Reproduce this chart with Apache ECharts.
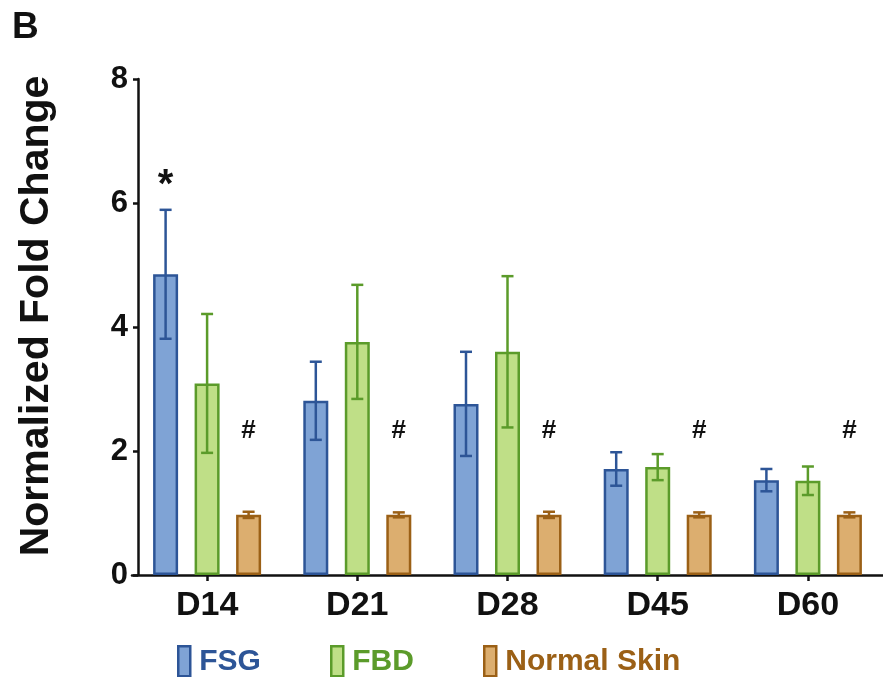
<!DOCTYPE html>
<html>
<head>
<meta charset="utf-8">
<script src="https://cdn.jsdelivr.net/npm/echarts@6/dist/echarts.min.js"></script>
<style>
html, body { margin: 0; padding: 0; background: #fff; }
#chart { width: 883px; height: 677px; }
</style>
</head>
<body>
<div id="chart"></div>
<script>
var categories = ['D14', 'D21', 'D28', 'D45', 'D60'];
var fsgMean = [4.85, 2.81, 2.76, 1.71, 1.53];
var fsgErr = [1.04, 0.63, 0.84, 0.27, 0.18];
var fbdMean = [3.09, 3.76, 3.60, 1.74, 1.52];
var fbdErr = [1.12, 0.92, 1.22, 0.21, 0.23];
var skinMean = [0.97, 0.97, 0.97, 0.97, 0.97];
var skinErr = [0.05, 0.04, 0.05, 0.04, 0.04];
var fsgMarks = ['*', '', '', '', ''];
var skinMarks = ['#', '#', '#', '#', '#'];
var yTicks = [0, 2, 4, 6, 8];

var font = "'Liberation Sans', Arial, sans-serif";
var groups = [
	{name: 'FSG', mean: fsgMean, err: fsgErr, marks: fsgMarks, fill: '#7fa3d5', edge: '#2d5597'},
	{name: 'FBD', mean: fbdMean, err: fbdErr, marks: null, fill: '#bfdf87', edge: '#5b9b2a'},
	{name: 'Normal Skin', mean: skinMean, err: skinErr, marks: skinMarks, fill: '#dcae6f', edge: '#9b6016'}
];
var barW = 25;
var barGap = 0.66;

// error bars (and the * / # marks) drawn beside each bar
function errorRenderer(k) {
	return function(params, api) {
		var i = api.value(0);
		var m = api.value(1);
		var e = api.value(2);
		var dx = (k - 1) * barW * (1 + barGap);
		var top = api.coord([i, m + e]);
		var bot = api.coord([i, m - e]);
		var x = top[0] + dx;
		var cap = 6;
		var st = {stroke: groups[k].edge, lineWidth: 2.5};
		var children = [
			{type: 'line', shape: {x1: x, y1: top[1], x2: x, y2: bot[1]}, style: st},
			{type: 'line', shape: {x1: x - cap, y1: top[1], x2: x + cap, y2: top[1]}, style: st},
			{type: 'line', shape: {x1: x - cap, y1: bot[1], x2: x + cap, y2: bot[1]}, style: st}
		];
		var g = groups[k];
		if (g.marks && g.marks[i]) {
			var isStar = g.marks[i] == '*';
			var p = api.coord([i, isStar ? m + e + 0.55 : 2.33]);
			children.push({
				type: 'text',
				style: {
					text: g.marks[i], x: x, y: isStar ? p[1] + 10 : p[1],
					align: 'center', verticalAlign: 'middle',
					font: 'bold ' + (isStar ? 40 : 26) + 'px ' + font, fill: '#111'
				}
			});
		}
		return {type: 'group', children: children};
	};
}

var series = [];
var legends = [];
var legendLeft = [177, 330, 483];
for (var k = 0; k < groups.length; k++) {
	var g = groups[k];
	series.push({
		name: g.name,
		type: 'bar',
		data: g.mean,
		barWidth: barW,
		barGap: Math.round(barGap * 100) + '%',
		itemStyle: {color: g.fill, borderColor: g.edge, borderWidth: 2.5},
		z: 2
	});
	var errData = [];
	for (var i = 0; i < categories.length; i++) {
		errData.push([i, g.mean[i], g.err[i]]);
	}
	series.push({
		name: g.name + ' SEM',
		type: 'custom',
		renderItem: errorRenderer(k),
		data: errData,
		encode: {x: 0, y: 1},
		z: 5,
		silent: true
	});
	legends.push({
		left: legendLeft[k],
		top: 645,
		padding: 0,
		itemWidth: 12,
		itemHeight: 30,
		icon: 'rect',
		selectedMode: false,
		data: [{
			name: g.name,
			itemStyle: {color: g.fill, borderColor: g.edge, borderWidth: 2.5},
			textStyle: {color: g.edge}
		}],
		textStyle: {fontFamily: font, fontWeight: 'bold', fontSize: 30, padding: [0, 0, 0, 4]}
	});
}

var dom = document.getElementById('chart');
var myChart = echarts.init(dom, null, {renderer: 'canvas'});
var option = {
	animation: false,
	backgroundColor: '#fff',
	title: {
		text: 'B',
		left: 12,
		top: 9,
		padding: 0,
		textStyle: {fontFamily: font, fontWeight: 'bold', fontSize: 37, color: '#111'}
	},
	legend: legends,
	grid: {left: 132, right: -11, top: 79, bottom: 102, containLabel: false},
	xAxis: {
		type: 'category',
		data: categories,
		axisLine: {lineStyle: {color: '#111', width: 2.5}},
		axisTick: {show: true, alignWithLabel: true, length: 6, lineStyle: {color: '#111', width: 2.5}},
		axisLabel: {fontFamily: font, fontWeight: 'bold', fontSize: 34, color: '#111', margin: 14},
		splitLine: {show: false}
	},
	yAxis: {
		type: 'value',
		min: yTicks[0],
		max: yTicks[yTicks.length - 1],
		interval: yTicks[1] - yTicks[0],
		offset: -6,
		name: 'Normalized Fold Change',
		nameLocation: 'middle',
		nameGap: 81,
		nameTextStyle: {fontFamily: font, fontWeight: 'bold', fontSize: 41, color: '#111', padding: [0, 0, 0, 22]},
		axisLine: {show: true, lineStyle: {color: '#111', width: 2.5}},
		axisTick: {show: true, length: 5, lineStyle: {color: '#111', width: 2.5}},
		axisLabel: {fontFamily: font, fontWeight: 'bold', fontSize: 31, color: '#111', margin: 10},
		splitLine: {show: false}
	},
	series: series
};
if (option && typeof option === "object") {
	myChart.setOption(option, true);
}
window.addEventListener('resize', function() {
	myChart.resize();
});
</script>
</body>
</html>
